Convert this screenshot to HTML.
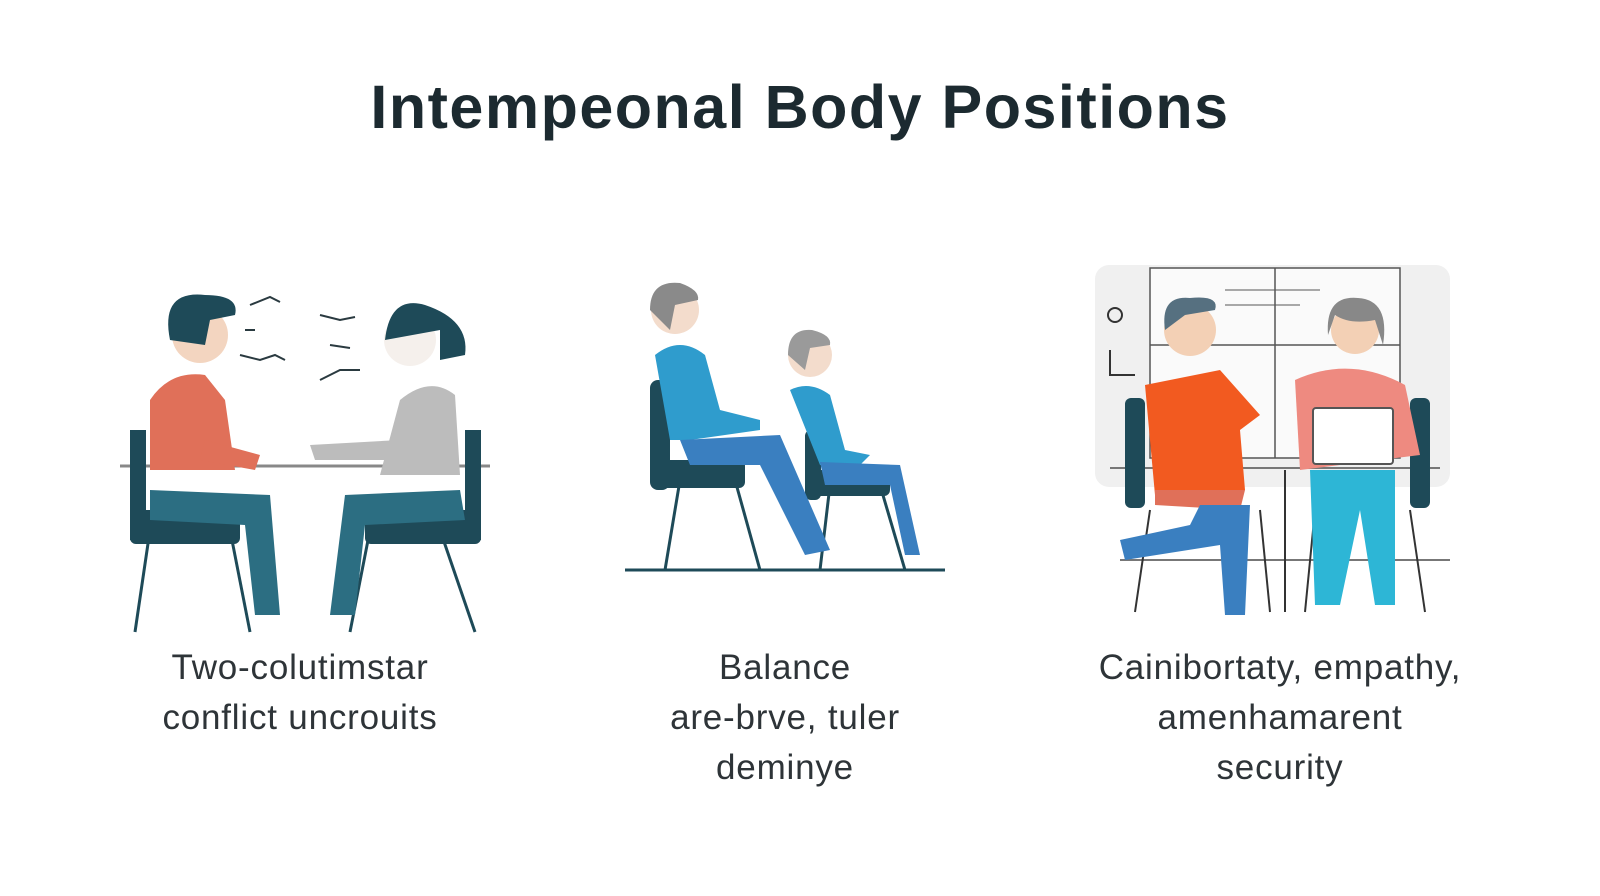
<!DOCTYPE html>
<html><head><meta charset="utf-8"><style>
body{margin:0;width:1600px;height:896px;background:#fff;overflow:hidden;font-family:"Liberation Sans",sans-serif;position:relative}
.t{position:absolute;top:72px;left:0;width:1600px;text-align:center;font-size:61px;font-weight:bold;color:#1c2a30;letter-spacing:1.5px}
.c{position:absolute;text-align:center;font-size:35px;color:#2e3438;line-height:50px;letter-spacing:0.8px}
</style></head><body>
<div class="t">Intempeonal Body Positions</div>
<svg width="1600" height="896" style="position:absolute;left:0;top:0">
<!-- panel 1 -->
<g stroke="#1e4a58" stroke-width="3" fill="none">
<line x1="120" y1="466" x2="490" y2="466" stroke="#888"/>
<line x1="150" y1="530" x2="135" y2="632"/><line x1="230" y1="530" x2="250" y2="632"/>
<line x1="440" y1="530" x2="475" y2="632"/><line x1="370" y1="530" x2="350" y2="632"/>
</g>
<rect x="130" y="430" width="16" height="110" fill="#1e4a58"/>
<rect x="130" y="510" width="110" height="34" rx="6" fill="#1e4a58"/>
<rect x="465" y="430" width="16" height="110" fill="#1e4a58"/>
<rect x="365" y="510" width="116" height="34" rx="6" fill="#1e4a58"/>
<path d="M150 400 Q170 370 205 375 L225 400 L235 470 L150 470Z" fill="#e07059"/>
<path d="M150 490 L270 495 L280 615 L255 615 L245 525 L150 520Z" fill="#2c6e82"/>
<path d="M205 440 L260 455 L255 470 L200 460Z" fill="#e07059"/>
<circle cx="200" cy="335" r="28" fill="#f3d5c0"/>
<path d="M170 340 Q160 290 205 295 Q240 295 235 315 L210 320 L205 345 Z" fill="#1e4a58"/>
<path d="M400 400 Q430 375 455 395 L460 475 L380 475Z" fill="#bcbcbc"/>
<path d="M400 440 L310 445 L315 460 L400 460Z" fill="#bcbcbc"/>
<path d="M460 490 L345 495 L330 615 L355 615 L365 525 L465 520Z" fill="#2c6e82"/>
<circle cx="410" cy="340" r="26" fill="#f5f0ec"/>
<path d="M385 340 Q390 295 425 305 Q470 320 465 355 L440 360 L440 330 Z" fill="#1e4a58"/>
<g stroke="#2a3a40" stroke-width="2" fill="none">
<path d="M250 305 l20 -8 l10 5"/><path d="M245 330 l10 0"/><path d="M240 355 l20 5 l15 -5 l10 5"/>
<path d="M320 315 l20 5 l15 -3"/><path d="M330 345 l20 3"/><path d="M320 380 l20 -10 l20 0"/>
</g>
<!-- panel 2 -->
<line x1="625" y1="570" x2="945" y2="570" stroke="#1e4a58" stroke-width="3"/>
<g stroke="#1e4a58" stroke-width="3"><line x1="680" y1="480" x2="665" y2="570"/><line x1="735" y1="480" x2="760" y2="570"/>
<line x1="830" y1="485" x2="820" y2="570"/><line x1="880" y1="485" x2="905" y2="570"/></g>
<rect x="650" y="380" width="20" height="110" rx="8" fill="#1e4a58"/>
<rect x="655" y="460" width="90" height="28" rx="6" fill="#1e4a58"/>
<rect x="805" y="430" width="16" height="70" rx="6" fill="#1e4a58"/>
<rect x="810" y="470" width="80" height="26" rx="6" fill="#1e4a58"/>
<path d="M655 355 Q680 335 705 355 L720 410 L760 420 L760 430 L690 440 L670 440Z" fill="#2f9ccd"/>
<path d="M680 440 L780 435 L830 550 L805 555 L760 465 L690 465Z" fill="#3a7fc0"/>
<circle cx="675" cy="310" r="24" fill="#f3dccc"/>
<path d="M650 310 Q650 280 680 283 Q700 290 698 300 L675 305 L670 330Z" fill="#8a8a8a"/>
<path d="M790 390 Q810 380 830 395 L845 450 L870 455 L860 465 L820 465Z" fill="#2f9ccd"/>
<path d="M820 462 L900 465 L920 555 L905 555 L890 485 L825 485Z" fill="#3a7fc0"/>
<circle cx="810" cy="355" r="22" fill="#f3dccc"/>
<path d="M788 355 Q788 328 812 330 Q832 335 830 345 L810 348 L805 370Z" fill="#9a9a9a"/>
<!-- panel 3 -->
<rect x="1095" y="265" width="355" height="222" rx="14" fill="#f0f0f0"/>
<rect x="1150" y="268" width="250" height="190" fill="#fafafa" stroke="#555" stroke-width="1.5"/>
<line x1="1275" y1="268" x2="1275" y2="458" stroke="#555" stroke-width="1.5"/>
<line x1="1150" y1="345" x2="1400" y2="345" stroke="#555" stroke-width="1.5"/>
<line x1="1225" y1="290" x2="1320" y2="290" stroke="#555"/><line x1="1225" y1="305" x2="1300" y2="305" stroke="#555"/>
<line x1="1110" y1="468" x2="1440" y2="468" stroke="#777" stroke-width="2"/>
<line x1="1120" y1="560" x2="1450" y2="560" stroke="#777" stroke-width="2"/>
<g stroke="#333" stroke-width="2"><line x1="1150" y1="510" x2="1135" y2="612"/><line x1="1260" y1="510" x2="1270" y2="612"/>
<line x1="1315" y1="510" x2="1305" y2="612"/><line x1="1410" y1="510" x2="1425" y2="612"/><line x1="1285" y1="470" x2="1285" y2="612"/></g>
<rect x="1125" y="398" width="20" height="110" rx="6" fill="#1e4a58"/>
<rect x="1410" y="398" width="20" height="110" rx="6" fill="#1e4a58"/>
<path d="M1145 385 L1220 370 L1260 415 L1240 430 L1245 490 L1155 495 Z" fill="#f25a20"/>
<path d="M1155 490 L1245 490 L1240 510 L1155 505Z" fill="#e07059"/>
<path d="M1120 540 L1190 525 L1200 505 L1250 505 L1245 615 L1225 615 L1220 545 L1125 560Z" fill="#3a7fc0"/>
<circle cx="1190" cy="330" r="26" fill="#f3d0b5"/>
<path d="M1165 330 Q1160 295 1190 298 Q1220 295 1215 310 L1185 315 Z" fill="#567080"/>
<path d="M1295 380 Q1350 355 1405 385 L1420 455 L1300 470 Z" fill="#ee8a80"/>
<path d="M1310 470 L1395 470 L1395 605 L1375 605 L1360 510 L1340 605 L1315 605Z" fill="#2db6d6"/>
<circle cx="1355" cy="330" r="24" fill="#f3d0b5"/>
<path d="M1328 335 Q1325 295 1358 298 Q1390 300 1383 345 L1375 320 Q1350 325 1335 315Z" fill="#888"/>
<rect x="1313" y="408" width="80" height="56" rx="3" fill="#fff" stroke="#555" stroke-width="2"/>
<circle cx="1115" cy="315" r="7" fill="none" stroke="#333" stroke-width="2"/>
<path d="M1110 350 v25 h25" fill="none" stroke="#333" stroke-width="2"/>
</svg>
<div class="c" style="left:100px;width:400px;top:643px">Two-colutimstar<br>conflict uncrouits</div>
<div class="c" style="left:585px;width:400px;top:643px">Balance<br>are-brve, tuler<br>deminye</div>
<div class="c" style="left:1060px;width:440px;top:643px">Cainibortaty, empathy,<br>amenhamarent<br>security</div>
</body></html>
